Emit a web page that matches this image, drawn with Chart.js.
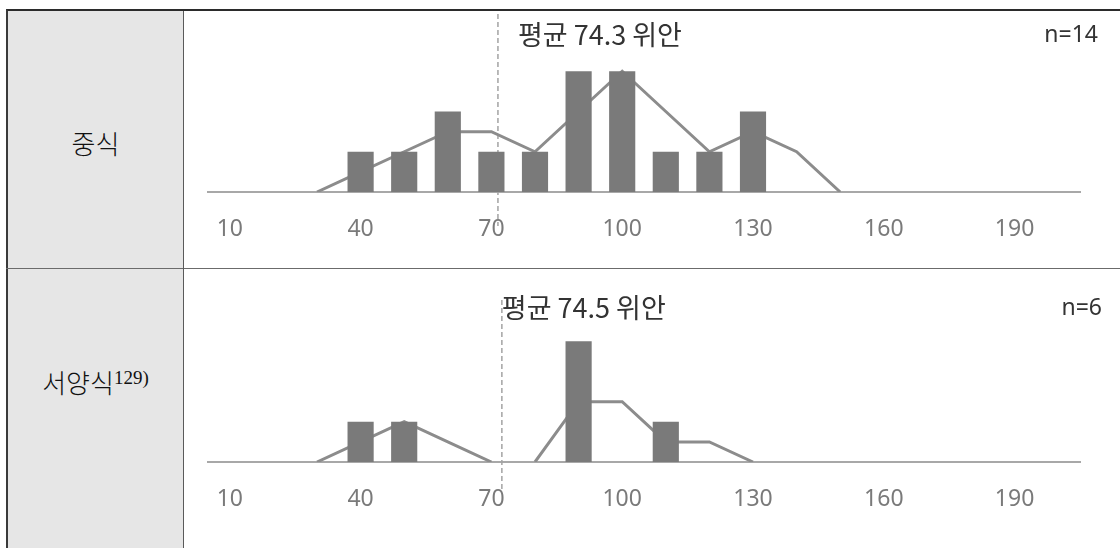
<!DOCTYPE html>
<html lang="ko">
<head>
<meta charset="utf-8">
<script src="https://cdn.jsdelivr.net/npm/chart.js@4.4.1/dist/chart.umd.min.js"></script>
<style>
  body { margin: 0; width: 1120px; height: 548px; overflow: hidden; background: #fff; position: relative; }
  .frame { position: absolute; left: 6px; top: 9px; width: 1114px; height: 539px; border-top: 2px solid #2b2b2b; border-left: 2px solid #3a3a3a; box-sizing: border-box; }
  .side { position: absolute; left: 8px; width: 175px; background: #e6e6e6; font-family: "Noto Sans CJK KR", sans-serif; font-size: 26px; font-weight: 300; color: #111; }
  .side span { position: absolute; left: 0; right: 0; text-align: center; }
  .side sup { font-family: "Liberation Serif", serif; font-size: 19px; vertical-align: 9px; }
  .hline { position: absolute; left: 6px; top: 268px; width: 1114px; height: 1px; background: #6b6b6b; }
  .vline { position: absolute; left: 183px; top: 11px; width: 1px; height: 537px; background: #5a5a5a; }
  canvas { position: absolute; left: 184px; }
</style>
</head>
<body>
<div class="frame"></div>
<div class="side" style="top:11px;height:257px"><span style="top:113px">중식</span></div>
<div class="side" style="top:269px;height:279px"><span style="top:94px">서양식<sup>129)</sup></span></div>
<div class="hline"></div>
<div class="vline"></div>
<canvas id="chinese" width="936" height="257" style="top:11px"></canvas>
<canvas id="western" width="936" height="279" style="top:269px"></canvas>
<script>
// price bins (위안)
const bins = ['10','20','30','40','50','60','70','80','90','100','110','120','130','140','150','160','170','180','190','200']

// 중식 counts and 2-bin moving average line
const chineseCounts = [0,0,0,1,1,2,1,1,3,3,1,1,2,0,0,0,0,0,0,0]
const chineseTrend  = [null,null,0,0.5,1,1.5,1.5,1,2,3,2,1,1.5,1,0,null,null,null,null,null]

// 서양식 counts and moving average line
const westernCounts = [0,0,0,1,1,0,0,0,3,0,1,0,0,0,0,0,0,0,0,0]
const westernTrend  = [null,null,0,0.5,1,0.5,0,0,1.5,1.5,0.5,0.5,0,null,null,null,null,null,null,null]

// where the dashed mean line sits on the axis, and its labels
const chineseMeanAt = 71.5
const westernMeanAt = 72.4
const chineseMeanText = '평균 74.3 위안'
const westernMeanText = '평균 74.5 위안'
const chineseN = 'n=14'
const westernN = 'n=6'

const meanMark = {
  id: 'meanMark',
  beforeDatasetsDraw(chart, args, o) {
    const ctx = chart.ctx
    const px = chart.scales.x.getPixelForValue((o.mean - 10) / 10)
    ctx.save()
    ctx.strokeStyle = '#a3a3a3'
    ctx.lineWidth = 1.5
    ctx.setLineDash([5, 3])
    ctx.beginPath()
    ctx.moveTo(px, o.y0)
    ctx.lineTo(px, o.y1)
    ctx.stroke()
    ctx.restore()
  },
  afterDraw(chart, args, o) {
    const ctx = chart.ctx
    const px = chart.scales.x.getPixelForValue((o.mean - 10) / 10)
    ctx.save()
    ctx.fillStyle = '#333'
    ctx.textBaseline = 'middle'
    ctx.font = '27px "Noto Sans CJK KR", sans-serif'
    ctx.textAlign = 'left'
    ctx.fillText(o.text, px + o.dx, o.ty)
    ctx.font = '23px "Noto Sans", sans-serif'
    ctx.textAlign = 'right'
    ctx.fillText(o.n, o.nx, o.ty)
    ctx.restore()
  }
}

// hide the flat stretches where the line would just sit on the axis
const hideFlat = c => (c.p0.parsed.y === 0 && c.p1.parsed.y === 0) ? 'rgba(0,0,0,0)' : undefined

const makeConfig = (counts, trend, axisHeight, mark) => ({
  data: {
    labels: bins,
    datasets: [
      { type: 'bar', data: counts, backgroundColor: '#7a7a7a', barPercentage: 0.6, categoryPercentage: 1, order: 0 },
      { type: 'line', data: trend, borderColor: '#8c8c8c', borderWidth: 3, pointRadius: 0, tension: 0, order: 1,
        segment: { borderColor: hideFlat } }
    ]
  },
  options: {
    responsive: false,
    animation: false,
    devicePixelRatio: 1,
    layout: { padding: { top: mark.top, left: 24, right: 40, bottom: 0 } },
    plugins: { legend: { display: false }, tooltip: { enabled: false }, meanMark: mark },
    scales: {
      x: {
        offset: true,
        grid: { display: false, drawTicks: false },
        border: { color: '#a8a8a8', width: 2 },
        ticks: {
          autoSkip: false, maxRotation: 0, padding: 24,
          color: '#7a7a7a', font: { family: '"Noto Sans", sans-serif', size: 23 },
          callback: (v, i) => i % 3 === 0 ? bins[i] : ''
        },
        afterFit: s => { s.height = axisHeight }
      },
      y: { display: false, min: 0, max: 4 }
    }
  },
  plugins: [meanMark]
})

new Chart(document.getElementById('chinese'), makeConfig(chineseCounts, chineseTrend, 76,
  { top: 20, mean: chineseMeanAt, text: chineseMeanText, n: chineseN, dx: 20, ty: 24, nx: 914, y0: 3, y1: 215 }))

new Chart(document.getElementById('western'), makeConfig(westernCounts, westernTrend, 86,
  { top: 32, mean: westernMeanAt, text: westernMeanText, n: westernN, dx: 0, ty: 39, nx: 918, y0: 31, y1: 221 }))
</script>
</body>
</html>
